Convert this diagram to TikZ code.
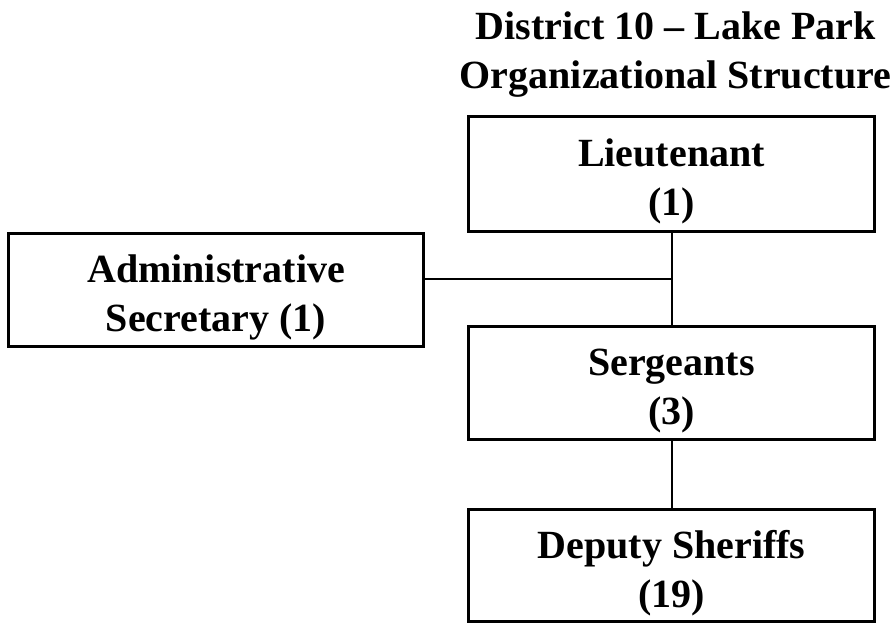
\documentclass[tikz,border=0pt]{standalone}
\usepackage{fontspec}
\setmainfont{Liberation Serif}
\usetikzlibrary{positioning,calc}

\tikzset{
  unit/.style={draw, line width=3pt, minimum width=406pt, minimum height=113pt,
    align=center, inner sep=0pt, font=\fontsize{40}{49}\selectfont\bfseries,
    execute at begin node={\rule{0pt}{92pt}}},
  heading/.style={align=center, inner sep=0pt, font=\fontsize{40}{49}\selectfont\bfseries}
}

\begin{document}
\begin{tikzpicture}[x=1pt,y=-1pt,line width=2pt]
            \useasboundingbox (0,0) rectangle (890,625);

            \node[heading,anchor=north] (title) at (675.5,11) {District 10 -- Lake Park\\Organizational Structure};

            \node[unit,minimum height=115pt] (lieut) at (671.5,174) {Lieutenant\\(1)};
            \node[unit] (serg) [below=92pt of lieut] {Sergeants\\(3)};
            \node[unit,minimum height=112pt] (deputy) [below=67pt of serg] {Deputy Sheriffs\\(19)};
            \node[unit,minimum width=415pt] (admin) at (216,290) {Administrative\\Secretary (1)};

            \coordinate (join) at ($(lieut.south)!0.5!(serg.north)$);

            \path (lieut) edge (serg);
            \path (serg) edge (deputy);
            \path (admin.east |- join) edge (join);
        \end{tikzpicture}
\end{document}
